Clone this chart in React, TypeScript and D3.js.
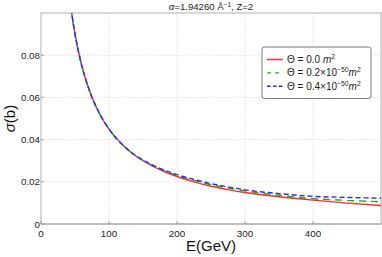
import React from 'react';
import * as d3 from 'd3';

// values
const energy = [44, 50, 60, 70, 80, 90, 100, 120, 140, 160, 180, 200, 225, 250, 275, 300, 350, 400, 450, 500];
const sigma0 = [0.1023, 0.09, 0.075, 0.0643, 0.0563, 0.05, 0.045, 0.0375, 0.0321, 0.0281, 0.025, 0.0225, 0.02, 0.0179, 0.0163, 0.0149, 0.0129, 0.0113, 0.0099, 0.0088];
const sigma2 = [0.1023, 0.09, 0.075, 0.0643, 0.0563, 0.05, 0.045, 0.0375, 0.0322, 0.0284, 0.0254, 0.0231, 0.0207, 0.0186, 0.0171, 0.0157, 0.0136, 0.012, 0.0112, 0.0105];
const sigma4 = [0.1023, 0.09, 0.075, 0.0643, 0.0563, 0.05, 0.045, 0.0375, 0.0323, 0.0286, 0.0257, 0.0234, 0.0211, 0.0191, 0.0176, 0.0162, 0.0144, 0.0131, 0.0126, 0.0122];
const xTicks = [0, 100, 200, 300, 400];
const yTicks = [0, 0.02, 0.04, 0.06, 0.08];

const series = [
  { name: '0.0', values: sigma0, color: '#ff2a2a', dash: 'none', legendDash: 'none' },
  { name: '0.2', values: sigma2, color: '#1faa1f', dash: '7,5', legendDash: '4,4' },
  { name: '0.4', values: sigma4, color: '#2a2aff', dash: '5,3', legendDash: '3.5,2.5' },
];

const W = 382;
const H = 257;
const margin = { top: 13, right: 1, bottom: 33, left: 41 };
const font = '"Liberation Sans", Arial, sans-serif';

export default function App() {
  const x = d3.scaleLinear().domain([0, 500]).range([margin.left, W - margin.right]);
  const y = d3.scaleLinear().domain([0, 0.1]).range([H - margin.bottom, margin.top]);

  const line = d3
    .line<number>()
    .x((_, i) => x(energy[i]))
    .y((d) => y(d))
    .curve(d3.curveMonotoneX);

  const [x0, x1] = x.range();
  const [y0, y1] = y.range();

  return (
    <svg width={W} height={H} style={{ position: 'absolute', left: 0, top: 0, background: '#fff' }} fontFamily={font}>
      <defs>
        <clipPath id="plot">
          <rect x={x0} y={y1} width={x1 - x0} height={y0 - y1} />
        </clipPath>
      </defs>

      {/* grid */}
      {xTicks.filter((t) => t > 0).map((t) => (
        <line key={'gx' + t} x1={x(t)} x2={x(t)} y1={y0} y2={y1} stroke="#dcdcdc" strokeWidth={0.8} strokeDasharray="2,1.5" />
      ))}
      {yTicks.filter((t) => t > 0).map((t) => (
        <line key={'gy' + t} x1={x0} x2={x1} y1={y(t)} y2={y(t)} stroke="#dcdcdc" strokeWidth={0.8} strokeDasharray="2,1.5" />
      ))}

      {/* frame */}
      <rect x={x0} y={y1} width={x1 - x0} height={y0 - y1} fill="none" stroke="#b0b0b0" strokeWidth={1} />
      <line x1={x0} x2={x1} y1={y0} y2={y0} stroke="#bdbdbd" strokeWidth={2} />

      {/* ticks */}
      {xTicks.map((t) => (
        <g key={'tx' + t}>
          <line x1={x(t)} x2={x(t)} y1={y0} y2={y0 - 3} stroke="#888" strokeWidth={0.8} />
          <text x={x(t)} y={y0 + 13} textAnchor="middle" fontSize={9.8} fill="#222">{t}</text>
        </g>
      ))}
      {yTicks.map((t) => (
        <g key={'ty' + t}>
          <line x1={x0} x2={x0 + 3} y1={y(t)} y2={y(t)} stroke="#888" strokeWidth={0.8} />
          <text x={x0 - 1} y={y(t) + 3.5} textAnchor="end" fontSize={9.8} fill="#222">
            {t === 0 ? '0' : d3.format('.2f')(t)}
          </text>
        </g>
      ))}

      {/* curves */}
      <g clipPath="url(#plot)">
        {series.map((s) => (
          <path key={s.name} d={line(s.values) ?? ''} fill="none" stroke={s.color} strokeWidth={1.4} strokeDasharray={s.dash} />
        ))}
      </g>

      {/* title */}
      <text x={(x0 + x1) / 2} y={10} textAnchor="middle" fontSize={9.6} fill="#222">
        <tspan fontStyle="italic">α</tspan>
        <tspan>=1.94260 Å</tspan>
        <tspan dy={-3} fontSize={6.5}>−1</tspan>
        <tspan dy={3}>, Z=2</tspan>
      </text>

      {/* axis labels */}
      <text x={(x0 + x1) / 2} y={H - 6} textAnchor="middle" fontSize={15} fill="#111">E(GeV)</text>
      <text transform={`translate(15,${(y0 + y1) / 2}) rotate(-90)`} textAnchor="middle" fontSize={15} fill="#111">
        <tspan fontStyle="italic">σ</tspan>
        <tspan>(b)</tspan>
      </text>

      {/* legend */}
      <g transform="translate(262,47)">
        <rect x={0} y={0} width={109} height={51.5} rx={2.5} fill="#fff" stroke="#555" strokeWidth={0.8} />
        {series.map((s, i) => (
          <g key={'lg' + s.name} transform={`translate(0,${12.5 + i * 13.4})`}>
            <line x1={5} x2={21} y1={0} y2={0} stroke={s.color} strokeWidth={1.4} strokeDasharray={s.legendDash} />
            <text x={25} y={3.5} fontSize={10} fill="#222">
              <tspan>Θ = {s.name}</tspan>
              {s.name === '0.0' ? (
                <>
                  <tspan> </tspan>
                  <tspan fontStyle="italic">m</tspan>
                  <tspan dy={-4} fontSize={6.8}>2</tspan>
                </>
              ) : (
                <>
                  <tspan>×10</tspan>
                  <tspan dy={-4} fontSize={6.8}>−50</tspan>
                  <tspan dy={4} fontStyle="italic">m</tspan>
                  <tspan dy={-4} fontSize={6.8}>2</tspan>
                </>
              )}
            </text>
          </g>
        ))}
      </g>
    </svg>
  );
}
